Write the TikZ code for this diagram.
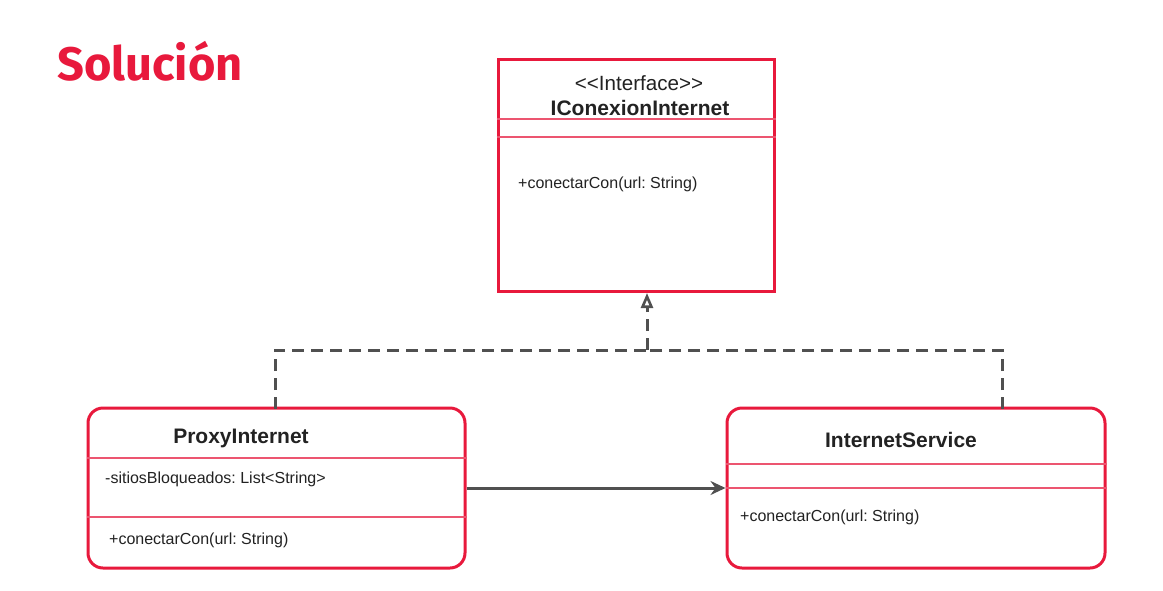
\documentclass[tikz,border=0pt]{standalone}
\usepackage{fontspec}
\setmainfont{Liberation Sans}
\newfontfamily\titlefont{Fira Sans}
\usetikzlibrary{arrows.meta,calc}
\definecolor{umlred}{HTML}{E8193C}
\definecolor{divred}{HTML}{EC5570}
\definecolor{linegray}{HTML}{505050}
\definecolor{txt}{HTML}{222222}
\frenchspacing
\tikzset{
  classbox/.style={draw=umlred, line width=3pt, inner sep=0pt},
  divider/.style={draw=divred, line width=1.4pt},
  member/.style={font=\fontsize{16}{18}\selectfont, text=txt, inner sep=0pt, anchor=west},
  cname/.style={font=\fontsize{21}{24}\selectfont\bfseries, text=txt, inner sep=0pt},
  stereo/.style={font=\fontsize{20.6}{23}\selectfont, text=txt, inner sep=0pt},
  realize/.style={draw=linegray, line width=3pt, dash pattern=on 12pt off 7pt},
  assoc/.style={draw=linegray, line width=3pt, -{Stealth[length=15pt, width=14pt, inset=5pt]}},
}
\begin{document}
\begin{tikzpicture}[x=1pt, y=-1pt]
\useasboundingbox (0,0) rectangle (1163,590);
\fill[white] (0,0) rectangle (1163,590);

% title
\node[font=\titlefont\fontsize{47}{50}\selectfont\bfseries, text=umlred, anchor=west, inner sep=0pt] (title) at (57,61) {Solución};

% interface box
\node[classbox, minimum width=276pt, minimum height=232pt] (iface) at (636,175) {};
\draw[divider] (iface.west |- 0,119) -- (iface.east |- 0,119);
\draw[divider] (iface.west |- 0,137) -- (iface.east |- 0,137);
\node[stereo] (istereo) at (639,83) {{<}{<}Interface{>}{>}};
\node[cname] (iname) at (640,108) {IConexionInternet};
\node[member] (imeth) at (518,184.5) {+conectarCon(url: String)};

% proxy box
\node[classbox, rounded corners=15pt, minimum width=377pt, minimum height=160pt] (proxy) at (276.5,488) {};
\draw[divider] (proxy.west |- 0,458) -- (proxy.east |- 0,458);
\draw[divider] (proxy.west |- 0,517) -- (proxy.east |- 0,517);
\node[cname] (pname) at (241,438.5) {ProxyInternet};
\node[member] (pattr) at (105,479.5) {-sitiosBloqueados: List{<}String{>}};
\node[member] (pmeth) at (109,540.5) {+conectarCon(url: String)};

% service box
\node[classbox, rounded corners=15pt, minimum width=378pt, minimum height=160pt] (service) at (916,488) {};
\draw[divider] (service.west |- 0,464) -- (service.east |- 0,464);
\draw[divider] (service.west |- 0,488) -- (service.east |- 0,488);
\node[cname] (sname) at (901,439.5) {InternetService};
\node[member] (smeth) at (740,517.5) {+conectarCon(url: String)};

% connectors
\coordinate (junction) at (647,350);
\coordinate (ptop) at (275,409);
\coordinate (stop) at (1002,409);
\coordinate (itip) at (647,293);
\draw[realize] (ptop) |- (junction);
\draw[realize] (stop) |- (junction);
\draw[realize, -{Triangle[open, length=15pt, width=12pt, line width=2.6pt]}, dash pattern=on 12pt off 7pt] (junction) -- (itip);

\draw[assoc] (proxy.east |- 0,488) -- (service.west |- 0,488);
\end{tikzpicture}
\end{document}
